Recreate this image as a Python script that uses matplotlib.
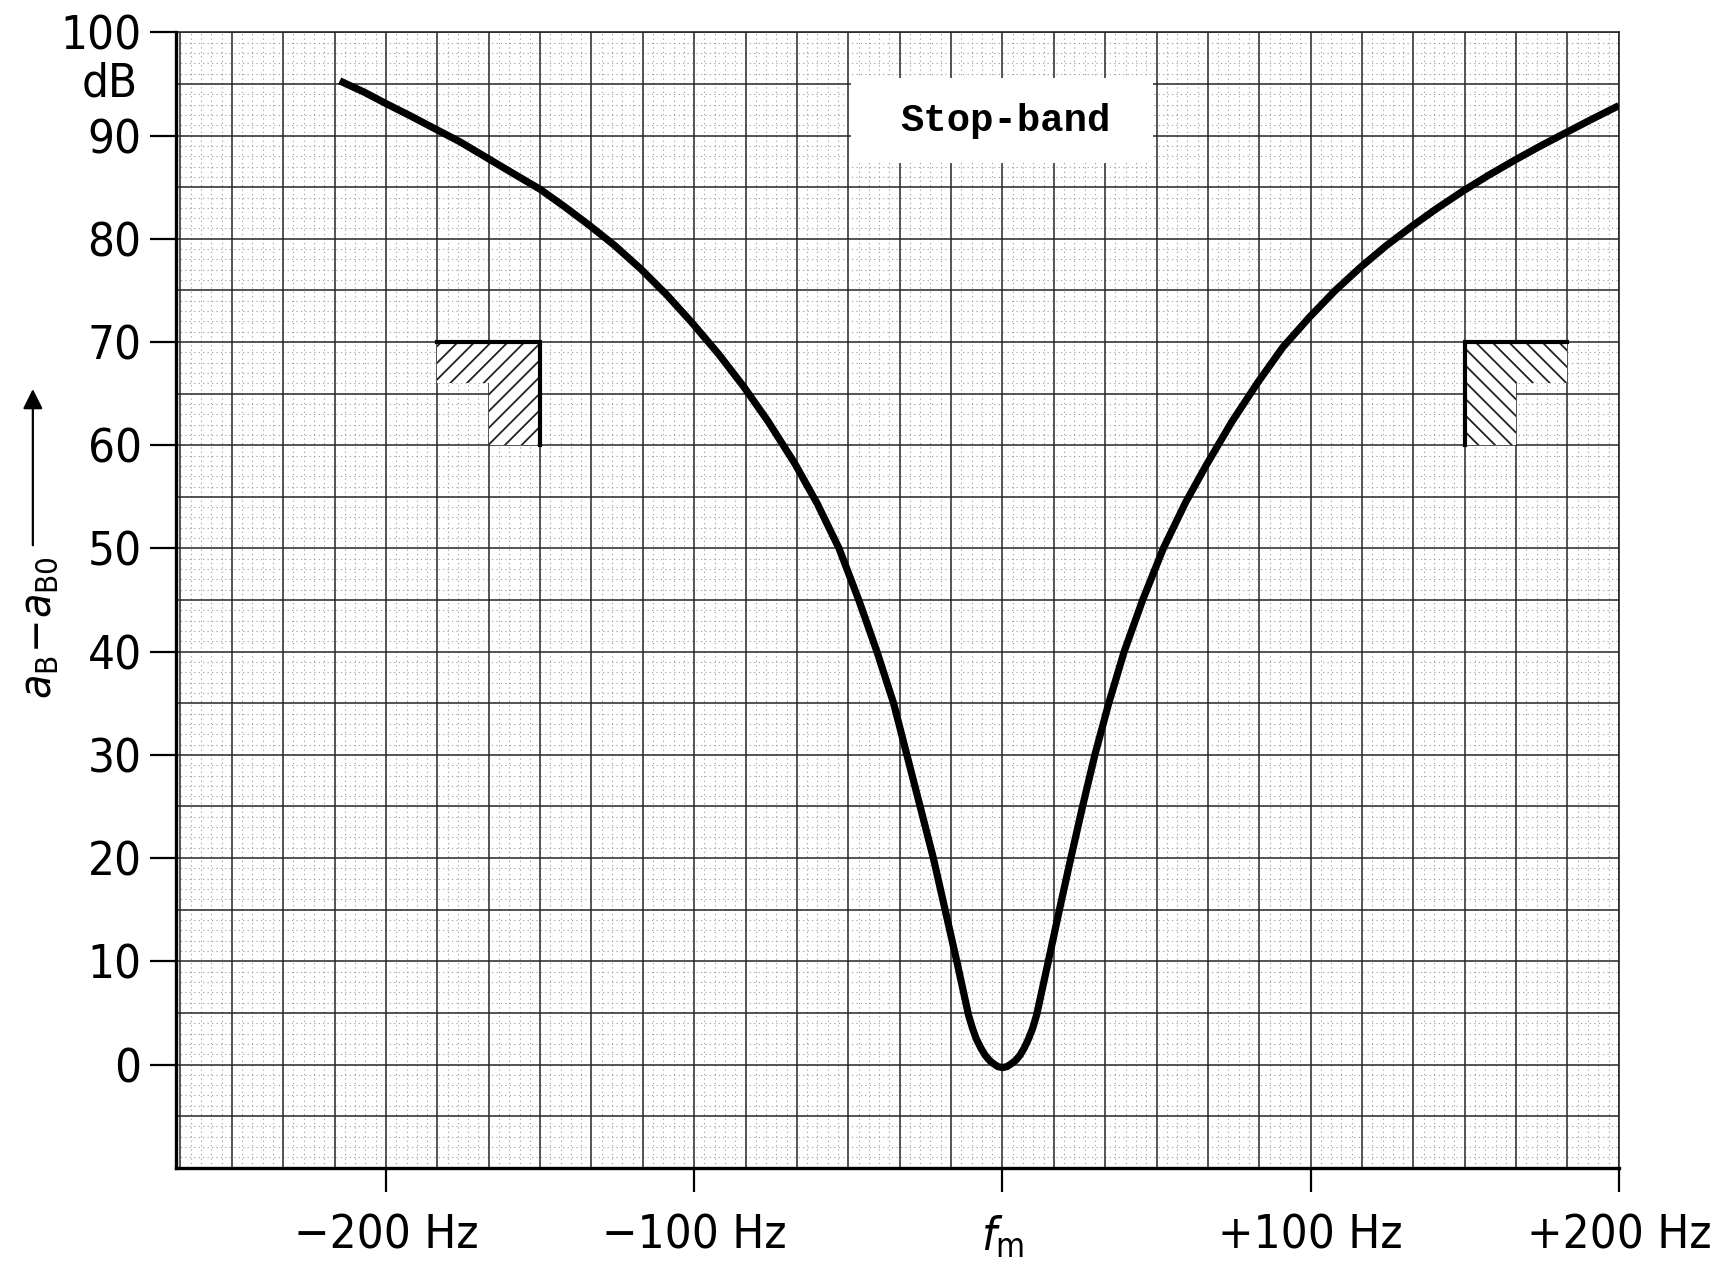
import matplotlib
matplotlib.use("Agg")
import matplotlib.pyplot as plt
from matplotlib.patches import Polygon, Rectangle, FancyArrowPatch
import numpy as np

# ---------------- data ----------------
freq_hz = [-215, -207, -200, -192, -185, -176, -167, -158, -150, -142, -134, -126,
           -117.4, -109, -100.8, -92, -84, -76, -67.3, -60, -53, -46.6, -40.7,
           -35.3, -31, -26.7, -22.4, -18.6, -14.8, -12.9, -11, -9.7, -8.5, -7,
           -5.6, -4.2, -3, -1.5, 0, 1.5, 3, 4.3, 5.7, 7.1, 8.5, 9.8, 11.1, 13.0,
           14.9, 18.5, 22.2, 26, 30, 34.5, 39.5, 45.5, 52.2, 59.5, 66.2, 74.5,
           82.9, 91, 99.6, 108, 116.4, 124.6, 132.8, 141, 149.3, 157.7, 166.1,
           174, 182.3, 191, 200]
atten_db = [95.3, 94.2, 93.1, 91.9, 90.8, 89.4, 87.8, 86.2, 84.8, 83.1, 81.3, 79.4,
            77.1, 74.6, 71.9, 68.8, 65.7, 62.3, 58.2, 54.3, 50, 45, 40,
            35, 30, 25, 20, 15, 10, 7.4, 4.8, 3.5, 2.5, 1.6,
            0.9, 0.4, 0.1, -0.2, -0.3, -0.2, 0.1, 0.4, 0.9, 1.6, 2.5, 3.5, 4.8, 7.4,
            10, 15, 20, 25, 30, 35, 40, 45, 50, 54.5, 58.1, 62.3,
            66.1, 69.5, 72.4, 75.0, 77.3, 79.35, 81.2, 82.95, 84.6, 86.15, 87.6,
            88.9, 90.2, 91.55, 92.9]

# tolerance masks (L-shaped hatched regions)
mask_left_x = [-183.33, -150, -150, -166.67, -166.67, -183.33]
mask_left_y = [70, 70, 60, 60, 66, 66]
mask_right_x = [150, 183.33, 183.33, 166.67, 166.67, 150]
mask_right_y = [70, 70, 66, 66, 60, 60]

xtick_vals = [-200, -100, 0, 100, 200]
xtick_labels = ["\u2212200 Hz", "\u2212100 Hz", r"$f_\mathrm{m}$", "+100 Hz", "+200 Hz"]
ytick_vals = [0, 10, 20, 30, 40, 50, 60, 70, 80, 90, 100]
ytick_labels = ["0", "10", "20", "30", "40", "50", "60", "70", "80", "90", "100"]
box_text = "Stop-band"

# ---------------- style ----------------
plt.rcParams["font.family"] = ["DejaVu Sans"]
plt.rcParams["font.stretch"] = "condensed"
plt.rcParams["mathtext.fontset"] = "dejavusans"
plt.rcParams["hatch.linewidth"] = 1.3

fig = plt.figure(figsize=(17.29, 12.79), dpi=100)
ax = fig.add_axes([0.102, 0.087, 0.8343, 0.8877])
xmin, xmax = -268, 200
ymin, ymax = -10, 100
ax.set_xlim(xmin, xmax)
ax.set_ylim(ymin, ymax)

# graph-paper grid
sq = 100.0 / 6.0
minor_x = np.arange(-80, 61) * sq / 5.0
minor_y = np.arange(-10, 101, 1)
for xv in minor_x:
    if xmin < xv < xmax and abs(round(xv / sq) * sq - xv) > 1e-6:
        ax.axvline(xv, color="#9a9a9a", lw=0.8, ls=(0, (1.0, 3.0)), zorder=1)
for yv in minor_y:
    if yv % 5 != 0:
        ax.axhline(yv, color="#9a9a9a", lw=0.8, ls=(0, (1.0, 3.0)), zorder=1)
for k in range(-16, 13):
    ax.axvline(k * sq, color="#262626", lw=1.1, zorder=1.5)
for yv in range(-10, 101, 5):
    ax.axhline(yv, color="#262626", lw=1.1, zorder=1.5)

# white label box
ax.add_patch(Rectangle((-49, 87.3), 98, 8.3, facecolor="white", edgecolor="none", zorder=2))
ax.text(1, 91.4, box_text, ha="center", va="center", fontsize=28, fontweight="bold",
        family=["Liberation Mono", "DejaVu Sans Mono"], zorder=3)

# hatched masks
ax.add_patch(Polygon(list(zip(mask_left_x, mask_left_y)), closed=True, facecolor="white",
                     edgecolor="#222222", lw=0, hatch="//", zorder=2))
ax.add_patch(Polygon(list(zip(mask_right_x, mask_right_y)), closed=True, facecolor="white",
                     edgecolor="#222222", lw=0, hatch="\\\\", zorder=2))
ax.plot([mask_left_x[0], mask_left_x[1], mask_left_x[2]],
        [mask_left_y[0], mask_left_y[1], mask_left_y[2]], color="black", lw=3,
        solid_joinstyle="miter", zorder=3)
ax.plot([mask_right_x[1], mask_right_x[0], mask_right_x[5]],
        [mask_right_y[1], mask_right_y[0], mask_right_y[5]], color="black", lw=3,
        solid_joinstyle="miter", zorder=3)

# curve
ax.plot(freq_hz, atten_db, color="black", lw=5.2, solid_capstyle="butt",
        solid_joinstyle="round", zorder=4)

# axes styling
for s in ["left", "bottom"]:
    ax.spines[s].set_linewidth(2.4)
    ax.spines[s].set_zorder(5)
for s in ["top", "right"]:
    ax.spines[s].set_linewidth(1.2)
    ax.spines[s].set_color("#262626")

ax.set_xticks(xtick_vals)
ax.set_xticklabels(xtick_labels)
ax.set_yticks(ytick_vals)
ax.set_yticklabels(ytick_labels)
ax.tick_params(axis="y", direction="out", length=19, width=1.6, pad=6, labelsize=34)
ax.tick_params(axis="x", direction="out", length=17, width=1.6, pad=16, labelsize=34)
ax.tick_params(top=False, right=False)

# dB unit under 100
ax.text(-0.027, 95, "dB", transform=ax.get_yaxis_transform(), ha="right", va="center",
        fontsize=34)

# y-axis label with arrow
fig.text(0.022, 0.509, r"$a_\mathrm{B}\!-\!a_\mathrm{B0}$", rotation=90, ha="center",
         va="center", fontsize=32)
fig.patches.append(FancyArrowPatch(
    (0.019, 0.5715), (0.019, 0.698), transform=fig.transFigure, arrowstyle="-|>",
    mutation_scale=30, lw=1.6, color="black"))

fig.savefig("out.png", dpi=100, facecolor="white")
